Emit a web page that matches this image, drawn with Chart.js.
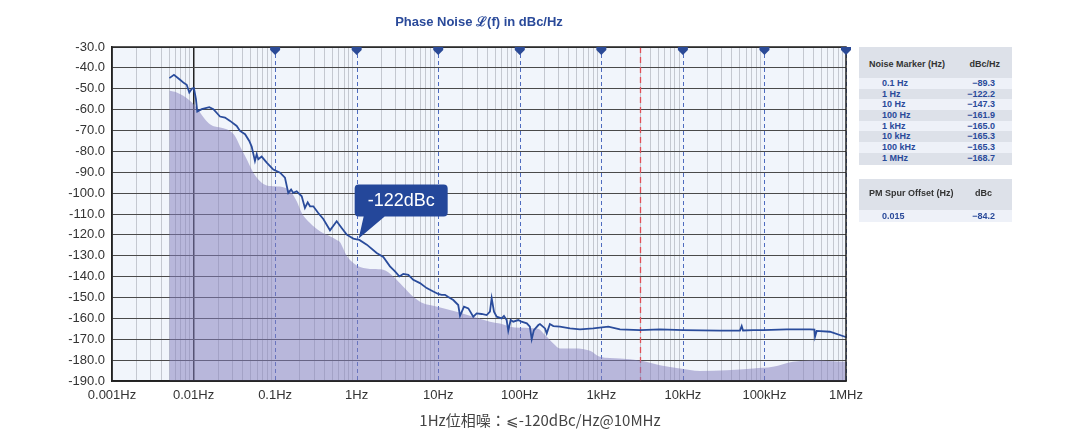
<!DOCTYPE html>
<html>
<head>
<meta charset="utf-8">
<script src="https://cdn.jsdelivr.net/npm/chart.js@4.4.1/dist/chart.umd.min.js"></script>
<style>
  body { margin: 0; background: #fff; }
  #wrap { position: relative; width: 1080px; height: 443px; overflow: hidden; }
  #title { position: absolute; left: 112px; width: 734px; top: 12px; text-align: center;
    font: bold 13px "Liberation Sans", Arial, sans-serif; color: #2a4a9a; }
  #caption { position: absolute; left: 0; width: 1080px; top: 409px; text-align: center;
    font: 15px "Noto Sans CJK JP", "Noto Sans", sans-serif; color: #444; }
  .panel { position: absolute; left: 859px; width: 153px; background: #dde1e9;
    font-family: "Liberation Sans", Arial, sans-serif; font-weight: bold; }
  .hdr { position: absolute; font-size: 9px; color: #333; line-height: 10px; }
  .row { position: absolute; left: 0; width: 153px; height: 10.7px; }
  .row span { position: absolute; font-size: 9px; color: #2a4a9a; line-height: 10.7px; }
</style>
</head>
<body>
<div id="wrap">
  <canvas id="c" width="1080" height="443"></canvas>
  <div id="title">Phase Noise ℒ(f) in dBc/Hz</div>
  <div id="caption">1Hz位相噪：⩽-120dBc/Hz@10MHz</div>
  <div class="panel" id="tbl1" style="top:47px;height:118px;">
    <div class="hdr" style="left:10px;top:12px;">Noise Marker (Hz)</div>
    <div class="hdr" style="right:12px;top:12px;">dBc/Hz</div>
  </div>
  <div class="panel" id="tbl2" style="top:179px;height:43px;">
    <div class="hdr" style="left:10px;top:9px;">PM Spur Offset (Hz)</div>
    <div class="hdr" style="right:20px;top:9px;">dBc</div>
  </div>
</div>
<script>
// x axis decades and labels
const xDecades = [0.001, 0.01, 0.1, 1, 10, 100, 1000, 10000, 100000, 1000000];
const xTickLabels = ['0.001Hz', '0.01Hz', '0.1Hz', '1Hz', '10Hz', '100Hz', '1kHz', '10kHz', '100kHz', '1MHz'];

// measured phase noise (Hz, dBc/Hz)
const measFreq = [0.00505, 0.00575, 0.00683, 0.00764, 0.00824, 0.00887, 0.00957, 0.0101, 0.0107, 0.0111,
  0.0126, 0.0156, 0.0175, 0.0211, 0.0243, 0.0280, 0.0338, 0.0371, 0.0428, 0.0482,
  0.0516, 0.0566, 0.0594, 0.0622, 0.0684, 0.0789, 0.0951, 0.115, 0.132, 0.145,
  0.157, 0.167, 0.184, 0.212, 0.232, 0.251, 0.268, 0.294, 0.338, 0.390,
  0.471, 0.569, 0.655, 0.755, 0.910, 1.0, 1.08, 1.33, 1.76, 2.12,
  2.56, 2.95, 3.33, 3.73, 4.30, 4.94, 5.97, 7.22, 8.70, 10.0,
  11.0, 12.1, 13.3, 15.3, 17.6, 18.5, 20.7, 23.4, 26.9, 29.6,
  34.1, 39.3, 43.1, 45.2, 48.3, 52.1, 60.0, 64.0, 69.0, 72.3,
  77.3, 83.2, 95.9, 105, 122, 133, 140, 149, 169, 177,
  204, 214, 234, 258, 311, 413, 547, 796, 1217, 1694,
  2979, 5236, 10100, 28500, 50100, 52600, 54600, 73000, 96800, 187000,
  361000, 410000, 417000, 437000, 635000, 971000, 1000000];
const measDb = [-44.9, -43.3, -45.7, -47.3, -48.1, -51.8, -49.9, -49.7, -55, -60.9,
  -59.8, -58.8, -59.8, -63.3, -63.8, -65.4, -67.8, -70.2, -71.8, -75,
  -77.7, -84.6, -81.4, -83.8, -82.5, -85.4, -88.7, -90.2, -92.6, -99.9,
  -98.3, -99.9, -99.1, -101.5, -107.1, -104.4, -106.3, -106.3, -109.5, -112.4,
  -117.8, -113.5, -116.7, -119.9, -121.8, -122.2, -122.4, -124.7, -128.7, -130.6,
  -135.1, -137.5, -139.9, -138.7, -139.1, -141.5, -143.1, -145.5, -147.1, -148.3,
  -148.7, -148.7, -149.8, -151.2, -153.6, -158.8, -154.4, -155.2, -159.2, -157.6,
  -157.9, -158.4, -156.8, -150.3, -156.8, -159.2, -160, -158.8, -160.8, -165.9,
  -160.8, -161.6, -160.8, -161.6, -162.4, -164, -170, -165.6, -163.2, -162.7,
  -164.8, -167.2, -162.7, -163.7, -164, -164.8, -165.3, -164.8, -164.0, -165.3,
  -165.6, -165.3, -165.6, -165.9, -165.8, -163.7, -165.8, -165.6, -165.6, -165.3,
  -165.3, -165.4, -168.8, -166, -166.4, -168.8, -169];

// reference / simulated curve drawn as filled area
const refFreq = [0.00505, 0.00621, 0.00748, 0.00903, 0.0104, 0.0120, 0.0138, 0.0159, 0.0183, 0.0232,
  0.0280, 0.0322, 0.0371, 0.0449, 0.0541, 0.0653, 0.0789, 0.0998, 0.132, 0.160,
  0.184, 0.212, 0.268, 0.355, 0.471, 0.569, 0.625, 0.755, 0.910, 1.10,
  1.60, 2.12, 2.81, 3.73, 4.94, 6.56, 8.70, 11.5, 16.8, 26.9,
  43.1, 57.2, 75.9, 100, 167, 204, 258, 311, 475, 726,
  962, 1694, 2979, 5236, 9200, 16200, 34700, 73000, 127000, 224000,
  394000, 1000000];
const refDb = [-51, -51.8, -53.4, -55.8, -58.2, -61.4, -64.6, -67, -68.1, -68.9,
  -70.2, -72.6, -77.5, -83.8, -90.2, -94.3, -96.3, -96.7, -97.4, -99.9,
  -103.9, -109.5, -114.3, -118.3, -120.7, -122.5, -123.5, -130, -133.5, -135.4,
  -136.4, -136.7, -139.9, -144.8, -149.6, -152.8, -154, -155.2, -156.8, -159.2,
  -161.6, -162.5, -164, -164.5, -165, -168, -172, -174.4, -174.4, -175.5,
  -178.4, -179.2, -180.2, -182.4, -184, -185.2, -184.8, -184, -183.2, -180.8,
  -180, -180.8];

// noise markers
const markerFreq = [0.1, 1, 10, 100, 1000, 10000, 100000, 1000000];
const markerLabels = ['0.1 Hz', '1 Hz', '10 Hz', '100 Hz', '1 kHz', '10 kHz', '100 kHz', '1 MHz'];
const markerValues = ['\u221289.3', '\u2212122.2', '\u2212147.3', '\u2212161.9', '\u2212165.0', '\u2212165.3', '\u2212165.3', '\u2212168.7'];

// spur table
const spurOffset = ['0.015'];
const spurValue = ['\u221284.2'];

// red reference line and callout
const redLineFreq = 3000;
const calloutFreq = 1;
const calloutDb = -122.2;
const calloutText = '-122dBc';

// tables
const t1 = document.getElementById('tbl1');
markerLabels.forEach((lab, i) => {
  const r = document.createElement('div');
  r.className = 'row';
  r.style.top = (31 + i * 10.67) + 'px';
  r.style.background = i % 2 === 0 ? '#eef1f8' : 'transparent';
  r.innerHTML = '<span style="left:23px">' + lab + '</span><span style="right:17px">' + markerValues[i] + '</span>';
  t1.appendChild(r);
});
const t2 = document.getElementById('tbl2');
spurOffset.forEach((lab, i) => {
  const r = document.createElement('div');
  r.className = 'row';
  r.style.top = (31 + i * 10.67) + 'px';
  r.style.height = '12px';
  r.style.background = '#eef1f8';
  r.innerHTML = '<span style="left:23px;line-height:12px">' + lab + '</span><span style="right:17px;line-height:12px">' + spurValue[i] + '</span>';
  t2.appendChild(r);
});

const gridValues = [];
xDecades.forEach((d, k) => {
  if (k === xDecades.length - 1) { gridValues.push(d); return; }
  for (let m = 1; m <= 9; m++) gridValues.push(d * m);
});
const isDecade = (v) => xDecades.indexOf(v) >= 0;

const bgPlugin = {
  id: 'bg',
  beforeDraw(chart) {
    const a = chart.chartArea, ctx = chart.ctx;
    ctx.save();
    ctx.fillStyle = '#f1f5fb';
    ctx.fillRect(a.left, a.top, a.right - a.left, a.bottom - a.top);
    ctx.restore();
  },
  beforeDatasetsDraw(chart) {
    const a = chart.chartArea, ctx = chart.ctx, xs = chart.scales.x;
    ctx.save();
    ctx.lineWidth = 1;
    ctx.setLineDash([4, 3]);
    ctx.strokeStyle = '#4f6cbf';
    markerFreq.forEach((f) => {
      const x = Math.round(xs.getPixelForValue(f)) + 0.5;
      ctx.beginPath(); ctx.moveTo(x, a.top); ctx.lineTo(x, a.bottom); ctx.stroke();
    });
    ctx.strokeStyle = '#e05058';
    ctx.lineWidth = 1.3;
    ctx.setLineDash([6, 4]);
    const xr = Math.round(xs.getPixelForValue(redLineFreq)) + 0.5;
    ctx.beginPath(); ctx.moveTo(xr, a.top); ctx.lineTo(xr, a.bottom); ctx.stroke();
    ctx.restore();
  },
  afterDatasetsDraw(chart) {
    const a = chart.chartArea, ctx = chart.ctx, xs = chart.scales.x, ys = chart.scales.y;
    ctx.save();
    ctx.strokeStyle = '#222';
    ctx.lineWidth = 1.5;
    ctx.strokeRect(a.left, a.top, a.right - a.left, a.bottom - a.top);
    // marker pins
    ctx.fillStyle = '#2b4a96';
    markerFreq.forEach((f) => {
      const x = xs.getPixelForValue(f);
      ctx.beginPath();
      ctx.moveTo(x - 5, a.top);
      ctx.lineTo(x + 5, a.top);
      ctx.lineTo(x + 5, a.top + 3);
      ctx.lineTo(x, a.top + 8);
      ctx.lineTo(x - 5, a.top + 3);
      ctx.closePath();
      ctx.fill();
    });
    // callout
    const px = xs.getPixelForValue(calloutFreq) + 2;
    const py = ys.getPixelForValue(calloutDb);
    const bx = px - 4, by = py - 55, bw = 93, bh = 32, r = 4;
    ctx.fillStyle = '#24479a';
    ctx.beginPath();
    ctx.moveTo(bx + r, by);
    ctx.lineTo(bx + bw - r, by);
    ctx.quadraticCurveTo(bx + bw, by, bx + bw, by + r);
    ctx.lineTo(bx + bw, by + bh - r);
    ctx.quadraticCurveTo(bx + bw, by + bh, bx + bw - r, by + bh);
    ctx.lineTo(bx + 30, by + bh);
    ctx.lineTo(px, py - 1);
    ctx.lineTo(bx + 9, by + bh);
    ctx.lineTo(bx + r, by + bh);
    ctx.quadraticCurveTo(bx, by + bh, bx, by + bh - r);
    ctx.lineTo(bx, by + r);
    ctx.quadraticCurveTo(bx, by, bx + r, by);
    ctx.closePath();
    ctx.fill();
    ctx.fillStyle = '#fff';
    ctx.font = '18px "Liberation Sans", Arial, sans-serif';
    ctx.textAlign = 'center';
    ctx.textBaseline = 'middle';
    ctx.fillText(calloutText, bx + bw / 2, by + bh / 2 + 1);
    ctx.restore();
  }
};

new Chart(document.getElementById('c'), {
  type: 'line',
  data: {
    datasets: [
      {
        data: measFreq.map((f, i) => ({ x: f, y: measDb[i] })),
        borderColor: '#2a4c9c',
        borderWidth: 1.8,
        pointRadius: 0,
        fill: false,
        tension: 0,
      },
      {
        data: refFreq.map((f, i) => ({ x: f, y: refDb[i] })),
        borderWidth: 0,
        borderColor: 'rgba(0,0,0,0)',
        backgroundColor: 'rgba(132,126,190,0.52)',
        pointRadius: 0,
        fill: 'start',
        cubicInterpolationMode: 'monotone',
      },
    ],
  },
  options: {
    responsive: false,
    animation: false,
    events: [],
    layout: { padding: { top: 47, right: 234, bottom: 32, left: 0 } },
    plugins: { legend: { display: false }, tooltip: { enabled: false }, title: { display: false } },
    scales: {
      x: {
        type: 'logarithmic',
        min: 0.001,
        max: 1000000,
        afterBuildTicks: (s) => { s.ticks = gridValues.map((v) => ({ value: v })); },
        afterFit: (s) => { s.height = 30; },
        ticks: {
          autoSkip: false,
          maxRotation: 0,
          padding: 7,
          color: '#333',
          font: { family: '"Liberation Sans", Arial, sans-serif', size: 13 },
          callback: (v) => { const k = xDecades.indexOf(v); return k >= 0 ? xTickLabels[k] : ''; },
        },
        grid: {
          drawTicks: false,
          color: (c) => {
            const v = c.tick && c.tick.value;
            if (v === 0.01) return '#222';
            if (isDecade(v)) return 'rgba(0,0,0,0)';
            return '#c4c8d0';
          },
          lineWidth: (c) => (c.tick && c.tick.value === 0.01 ? 1.5 : 1),
        },
        border: { display: true, color: '#222', width: 1.5 },
      },
      y: {
        min: -190,
        max: -30,
        afterFit: (s) => { s.width = 112; },
        ticks: {
          stepSize: 10,
          padding: 7,
          color: '#333',
          font: { family: '"Liberation Sans", Arial, sans-serif', size: 13 },
          callback: (v) => v.toFixed(1),
        },
        grid: { drawTicks: false, color: '#4a4a4a', lineWidth: 1 },
        border: { display: true, color: '#222', width: 1.5 },
      },
    },
  },
  plugins: [bgPlugin],
});
</script>
</body>
</html>
